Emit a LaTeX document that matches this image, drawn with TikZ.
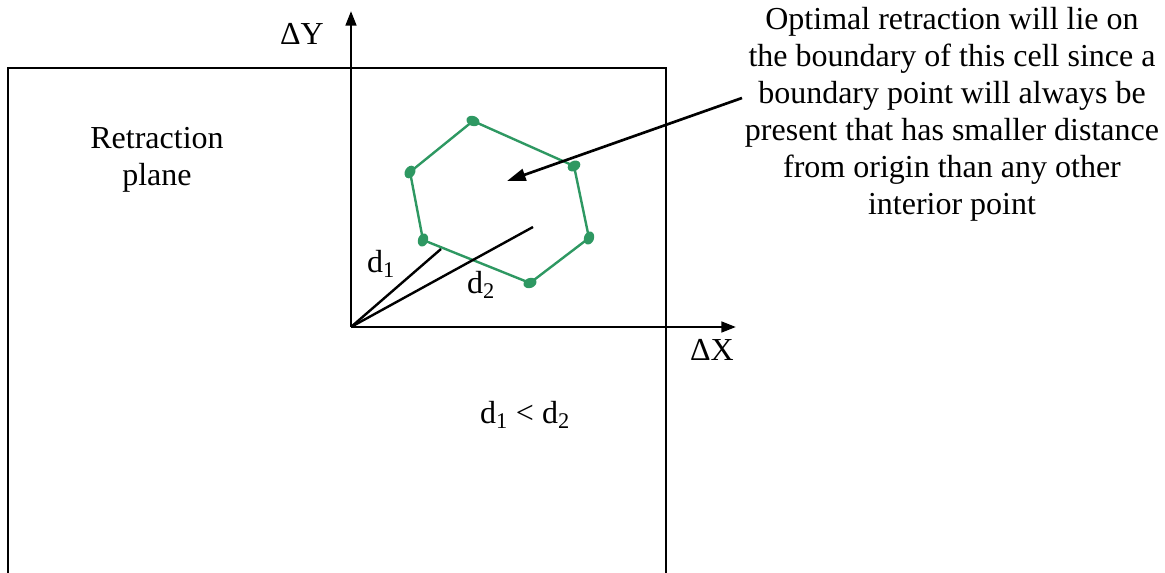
\documentclass[tikz,border=0pt]{standalone}
\usepackage{fontspec}
\setmainfont{Liberation Serif}
\usetikzlibrary{arrows.meta,shapes.geometric}
\definecolor{hexgreen}{RGB}{46,152,98}
\tikzset{
  frame/.style={line width=2pt},
  axis/.style={line width=2pt,-{Triangle[length=11pt,width=8pt]}},
  dist/.style={line width=1.8pt},
  cell/.style={hexgreen,line width=1.8pt},
  vdot/.style={ellipse,fill=hexgreen,inner sep=0pt,minimum width=10pt,minimum height=7.5pt},
  lbl/.style={font=\fontsize{24}{27.7}\selectfont,inner sep=0pt},
  pointer/.style={line width=2pt,-{Triangle[length=14pt,width=9pt]}}
}
\begin{document}
\begin{tikzpicture}[x=0.75pt,y=-0.75pt]
\useasboundingbox (0,0) rectangle (1165,573);
% frame (bottom edge cut off)
\draw[frame] (8,575) -- (8,68) -- (666,68) -- (666,575);
% axes
\coordinate (O) at (351,327);
\coordinate (ytip) at (351,11);
\coordinate (xtip) at (736,327);
\draw[axis] (O) -- (ytip);
\draw[axis] (O) -- (xtip);
% hexagon
\coordinate (h1) at (473,121);
\coordinate (h2) at (574,166);
\coordinate (h3) at (589,238);
\coordinate (h4) at (530,283);
\coordinate (h5) at (423,240);
\coordinate (h6) at (410,172);
\draw[cell] (h1) -- (h2) -- (h3) -- (h4) -- (h5) -- (h6) -- cycle;
\foreach \p/\r in {h1/-20,h2/30,h3/70,h4/20,h5/70,h6/60}
  \node[vdot,rotate=\r] at (\p) {};
% distances
\coordinate (p1) at (441,249);
\coordinate (p2) at (533,227);
\draw[dist] (O) -- (p1);
\draw[dist] (O) -- (p2);
% labels
\node[lbl] (ly) at (302,34) {ΔY};
\node[lbl] (lx) at (712,350) {ΔX};
\node[lbl,align=center] (rp) at (157,160) {Retraction\\plane};
\node[lbl] (d1) at (381,264) {d\textsubscript{1}};
\node[lbl] (d2) at (481,285) {d\textsubscript{2}};
\node[lbl] (cmp) at (525,415) {d\textsubscript{1} < d\textsubscript{2}};
\node[lbl,align=center] (note) at (952,114) {Optimal retraction will lie on\\the boundary of this cell since a\\boundary point will always be\\present that has smaller distance\\from origin than any other\\interior point};
\coordinate (tip) at (507,181);
\draw[pointer] (742,98) -- (tip);
\end{tikzpicture}
\end{document}
